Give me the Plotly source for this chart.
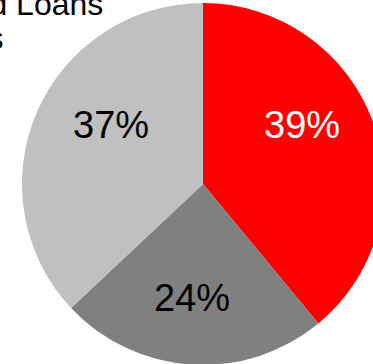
import plotly.graph_objects as go

# Share of loan book by segment
segments = ["Secured Loans", "Credit Cards", "Other Loans"]
shares = [39, 24, 37]
slice_colors = ["#FF0000", "#808080", "#C0C0C0"]
label_colors = ["#FFFFFF", "#000000", "#000000"]
# where each percentage label sits (pixel centres)
label_pos = [(302, 125), (192, 298), (111, 125)]

FONT = "Liberation Sans, Arial, sans-serif"
W, H = 390, 370
cx, cy, r = 203, 184, 181  # pie centre and radius in pixels


def px_x(v):
    return v / W


def px_y(v):
    return 1 - v / H


fig = go.Figure(
    go.Pie(
        labels=segments,
        values=shares,
        sort=False,
        direction="clockwise",
        rotation=0,
        marker=dict(colors=slice_colors, line=dict(width=0)),
        textinfo="none",
        domain=dict(x=[px_x(cx - r), px_x(cx + r)], y=[px_y(cy + r), px_y(cy - r)]),
        showlegend=False,
        hoverinfo="skip",
    )
)

# Percentage labels inside each slice
for val, col, (lx, ly) in zip(shares, label_colors, label_pos):
    fig.add_annotation(
        text=f"{val}%", x=px_x(lx), y=px_y(ly), xref="paper", yref="paper",
        xanchor="center", yanchor="middle", showarrow=False, borderpad=0,
        font=dict(family=FONT, size=38, color=col),
    )

# Legend-style captions on the left
fig.add_annotation(
    text=segments[0], x=px_x(104), y=px_y(23), xref="paper", yref="paper",
    xanchor="right", yanchor="bottom", showarrow=False, borderpad=0,
    font=dict(family=FONT, size=32, color="#000000"),
)
fig.add_annotation(
    text=segments[1], x=px_x(5), y=px_y(57), xref="paper", yref="paper",
    xanchor="right", yanchor="bottom", showarrow=False, borderpad=0,
    font=dict(family=FONT, size=32, color="#000000"),
)

fig.update_layout(
    width=W, height=H,
    margin=dict(l=0, r=0, t=0, b=0),
    paper_bgcolor="#FFFFFF",
    plot_bgcolor="#FFFFFF",
)

fig.write_html(
    "out.html",
    post_script="document.body.style.margin='0';document.documentElement.style.overflow='hidden';document.body.style.overflow='hidden';",
)
